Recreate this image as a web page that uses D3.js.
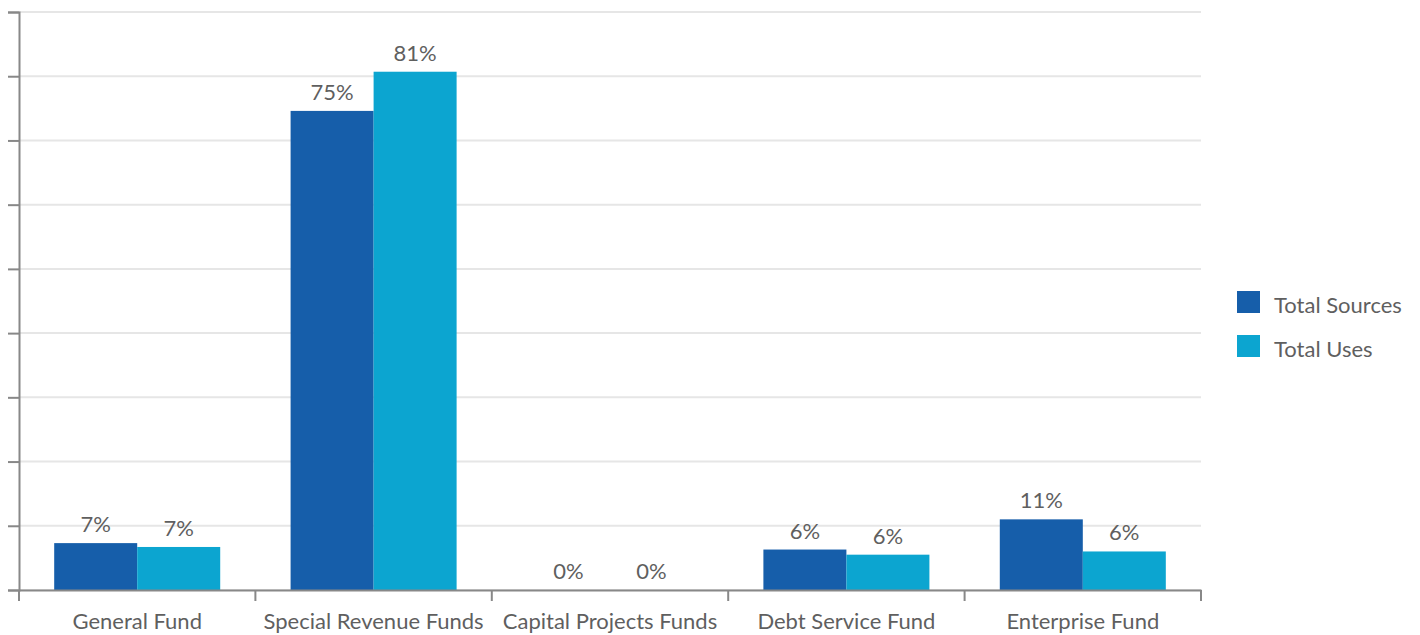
<!DOCTYPE html>
<html>
<head>
<meta charset="utf-8">
<script src="https://cdn.jsdelivr.net/npm/d3@7"></script>
<style>
  body { margin: 0; background: #fff; }
  text { font-family: Lato, "Open Sans", sans-serif; fill: #5f5f5f; }
</style>
</head>
<body>
<div id="chart"></div>
<script>
// data (percent of total)
var funds = ["General Fund", "Special Revenue Funds", "Capital Projects Funds", "Debt Service Fund", "Enterprise Fund"];
var totalSources = [7.3, 74.6, 0, 6.3, 11.0];
var totalUses = [6.7, 80.7, 0, 5.5, 6.0];
var seriesNames = ["Total Sources", "Total Uses"];
var seriesColors = ["#165eaa", "#0ca5d0"];
var yTicks = [0, 10, 20, 30, 40, 50, 60, 70, 80, 90];

var svgWidth = 1420;
var svgHeight = 635;

var x0 = 19, x1 = 1201, yBase = 590, yTop = 12;

var svg = d3.select("#chart")
    .append("svg")
    .attr("width", svgWidth)
    .attr("height", svgHeight);

var xScale = d3.scaleBand()
    .domain(funds)
    .range([x0, x1])
    .paddingInner(0)
    .paddingOuter(0);

var yScale = d3.scaleLinear()
    .domain([0, 90])
    .range([yBase, yTop]);

// two bars per group, ~35px gap at each side of the group
var inner = d3.scaleBand()
    .domain(seriesNames)
    .range([0, xScale.bandwidth()])
    .paddingOuter(0.424)
    .paddingInner(0);

// gridlines
svg.append("g")
    .selectAll("line")
    .data(yTicks)
    .enter()
    .append("line")
    .attr("x1", x0)
    .attr("x2", x1)
    .attr("y1", d => yScale(d))
    .attr("y2", d => yScale(d))
    .attr("stroke", "#e6e6e6")
    .attr("stroke-width", 2);

// y axis (no labels)
var leftAxis = d3.axisLeft(yScale)
    .tickValues(yTicks)
    .tickSize(11)
    .tickFormat("");
var yAxis = svg.append("g")
    .attr("transform", `translate(${x0}, 0)`)
    .call(leftAxis);
yAxis.select(".domain").attr("stroke", "#888").attr("stroke-width", 2);
yAxis.selectAll(".tick line").attr("stroke", "#888").attr("stroke-width", 2);

// bars
var rows = funds.map((f, i) => ({ fund: f, values: [totalSources[i], totalUses[i]] }));

var groups = svg.append("g")
    .selectAll("g")
    .data(rows)
    .enter()
    .append("g")
    .attr("transform", d => `translate(${xScale(d.fund)}, 0)`);

groups.selectAll("rect")
    .data(d => d.values.map((v, j) => ({ name: seriesNames[j], value: v, color: seriesColors[j] })))
    .enter()
    .append("rect")
    .attr("x", d => inner(d.name))
    .attr("width", inner.bandwidth())
    .attr("y", d => yScale(d.value))
    .attr("height", d => yBase - yScale(d.value))
    .attr("fill", d => d.color);

groups.selectAll("text")
    .data(d => d.values.map((v, j) => ({ name: seriesNames[j], value: v })))
    .enter()
    .append("text")
    .attr("x", d => inner(d.name) + inner.bandwidth() / 2)
    .attr("y", d => yScale(d.value) - 11)
    .attr("text-anchor", "middle")
    .attr("font-size", "22px")
    .text(d => Math.round(d.value) + "%");

// x axis
var bottomAxis = d3.axisBottom(xScale).tickSize(0).tickPadding(23);
var xAxis = svg.append("g")
    .attr("transform", `translate(0, ${yBase})`)
    .call(bottomAxis);
xAxis.select(".domain").attr("stroke", "#888").attr("stroke-width", 2);
xAxis.selectAll("text")
    .attr("font-size", "22px")
    .attr("fill", "#5f5f5f")
    .attr("font-family", "Lato, sans-serif");

// dividers between categories
var edges = funds.map(f => xScale(f)).concat([x1]);
xAxis.selectAll(".divider")
    .data(edges)
    .enter()
    .append("line")
    .attr("class", "divider")
    .attr("x1", d => d)
    .attr("x2", d => d)
    .attr("y1", 0)
    .attr("y2", 11)
    .attr("stroke", "#888")
    .attr("stroke-width", 2);

// legend
var legend = svg.append("g")
    .attr("transform", "translate(1237, 291)");

var items = legend.selectAll("g")
    .data(seriesNames)
    .enter()
    .append("g")
    .attr("transform", (d, i) => `translate(0, ${i * 44})`);

items.append("rect")
    .attr("width", 23)
    .attr("height", 22)
    .attr("fill", (d, i) => seriesColors[i]);

items.append("text")
    .attr("x", 37)
    .attr("y", 14)
    .attr("dy", "0.35em")
    .attr("font-size", "22px")
    .text(d => d);
</script>
</body>
</html>
